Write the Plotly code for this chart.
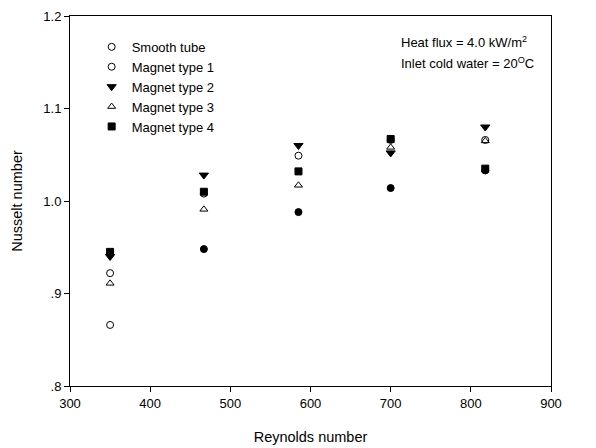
import plotly.graph_objects as go

reynolds = [350, 467, 585, 700, 818]
smooth_tube = [0.866, 0.948, 0.988, 1.014, 1.033]
smooth_symbols = ["circle-open", "circle", "circle", "circle", "circle"]
magnet_1 = [0.922, 1.008, 1.049, 1.066, 1.066]
magnet_2 = [0.940, 1.028, 1.060, 1.052, 1.080]
magnet_3 = [0.911, 0.991, 1.017, 1.058, 1.065]
magnet_4 = [0.945, 1.010, 1.032, 1.067, 1.035]

y_tickvals = [0.8, 0.9, 1.0, 1.1, 1.2]
y_ticktext = [".8", ".9", "1.0", "1.1", "1.2"]
x_tickvals = [300, 400, 500, 600, 700, 800, 900]

font = "Liberation Sans, Arial, sans-serif"

fig = go.Figure()
series = [
    ("Smooth tube", smooth_tube, smooth_symbols, 7),
    ("Magnet type 1", magnet_1, "circle-open", 7),
    ("Magnet type 2", magnet_2, "triangle-down", 8),
    ("Magnet type 3", magnet_3, "triangle-up-open", 7),
    ("Magnet type 4", magnet_4, "square", 7),
]
for name, vals, sym, size in series:
    fig.add_trace(go.Scatter(
        x=reynolds, y=vals, mode="markers", name=name,
        marker=dict(symbol=sym, size=size, color="black",
                    line=dict(color="black", width=1)),
    ))

fig.update_layout(
    width=596, height=448,
    margin=dict(l=70, r=45, t=16, b=62, autoexpand=False),
    paper_bgcolor="white", plot_bgcolor="white",
    font=dict(family=font, size=13, color="black"),
    showlegend=True,
    legend=dict(x=0.045, y=0.957, xanchor="left", yanchor="top",
                bgcolor="rgba(0,0,0,0)", font=dict(size=13),
                itemsizing="trace", tracegroupgap=0),
    xaxis=dict(range=[300, 900], tickvals=x_tickvals, ticks="outside",
               ticklen=5, tickcolor="black", showline=True, linecolor="black",
               linewidth=1, mirror=True, showgrid=False, zeroline=False,
               automargin=False,
               title=dict(text="Reynolds number", font=dict(size=14.5), standoff=22),
               tickfont=dict(size=13)),
    yaxis=dict(range=[0.8, 1.2], tickvals=y_tickvals, ticktext=y_ticktext,
               ticks="outside", ticklen=5, tickcolor="black", showline=True,
               linecolor="black", linewidth=1, mirror=True, showgrid=False,
               zeroline=False, automargin=False,
               title=dict(text="Nusselt number", font=dict(size=14.5), standoff=17),
               tickfont=dict(size=13)),
)

fig.add_annotation(xref="paper", yref="paper", x=0.685, y=0.904, xanchor="left",
                   yanchor="bottom", showarrow=False, align="left",
                   text="Heat flux = 4.0 kW/m<sup>2</sup>", font=dict(size=13))
fig.add_annotation(xref="paper", yref="paper", x=0.685, y=0.901, xanchor="left",
                   yanchor="top", showarrow=False, align="left",
                   text="Inlet cold water = 20<sup>O</sup>C", font=dict(size=13))

fig.write_html("out.html")
